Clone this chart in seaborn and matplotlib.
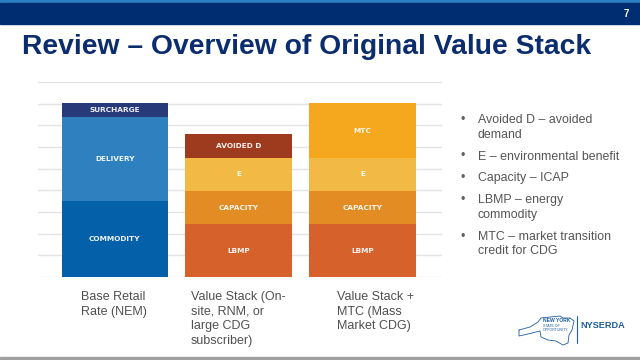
import matplotlib
matplotlib.use("Agg")
import matplotlib.pyplot as plt
import numpy as np
import pandas as pd
import seaborn as sns

sns.set_theme(style="white")
plt.rcParams["font.family"] = ["Liberation Sans", "DejaVu Sans"]

# ── data ─────────────────────────────────────────────────────────────────────
CATEGORIES = ["Base Retail\nRate (NEM)",
              "Value Stack (On-\nsite, RNM, or\nlarge CDG\nsubscriber)",
              "Value Stack +\nMTC (Mass\nMarket CDG)"]

# segments listed bottom -> top for each bar
SEG_NAMES = [["COMMODITY", "DELIVERY", "SURCHARGE"],
             ["LBMP", "CAPACITY", "E", "AVOIDED D"],
             ["LBMP", "CAPACITY", "E", "MTC"]]
SEG_VALUES = [[3.5, 3.9, 0.63],
              [2.43, 1.55, 1.53, 1.07],
              [2.43, 1.55, 1.53, 2.5]]

COLORS = {"COMMODITY": "#0460a9", "DELIVERY": "#2e80bf", "SURCHARGE": "#28397a",
          "LBMP": "#d6612a", "CAPACITY": "#e38c24", "E": "#f2b944",
          "AVOIDED D": "#9e3a1d", "MTC": "#f5a81e"}

BULLETS = [["Avoided D \u2013 avoided", "demand"],
           ["E \u2013 environmental benefit"],
           ["Capacity \u2013 ICAP"],
           ["LBMP \u2013 energy", "commodity"],
           ["MTC \u2013 market transition", "credit for CDG"]]

# long table of segments
rows = []
for cat, names, vals in zip(CATEGORIES, SEG_NAMES, SEG_VALUES):
    cum = np.cumsum(vals)
    for i, (n, v) in enumerate(zip(names, vals)):
        rows.append({"bar": cat, "layer": i, "segment": n, "value": v,
                     "top": cum[i], "mid": cum[i] - v / 2})
seg = pd.DataFrame(rows)

fig = plt.figure(figsize=(6.4, 3.6), dpi=100)

# ── header ──────────────────────────────────────────────────────────────────
fig.patches.append(plt.Rectangle((0, 1 - 3 / 360), 1, 3 / 360, transform=fig.transFigure,
                                 color="#2a7fc0", zorder=0))
fig.patches.append(plt.Rectangle((0, 1 - 24 / 360), 1, 21 / 360, transform=fig.transFigure,
                                 color="#002d72", zorder=0))
fig.text(626 / 640, 1 - 14 / 360, "7", color="white", fontsize=7, fontweight="bold",
         ha="center", va="center")
fig.text(22 / 640, 1 - 47 / 360, "Review \u2013 Overview of Original Value Stack",
         color="#0b2d6e", fontsize=20.3, fontweight="bold", ha="left", va="center")
fig.patches.append(plt.Rectangle((0, 1 - 358.5 / 360), 1, 2 / 360, transform=fig.transFigure,
                                 color="#a0a0a0", zorder=0))

# ── stacked bars ────────────────────────────────────────────────────────────
ax = fig.add_axes([38 / 640, 1 - 277 / 360, 404 / 640, 195 / 360])
for layer in sorted(seg["layer"].unique(), reverse=True):
    sub = seg[seg["layer"] == layer]
    pal = {r.bar: COLORS[r.segment] for r in sub.itertuples()}
    sns.barplot(data=sub, x="bar", y="top", hue="bar", order=CATEGORIES,
                hue_order=list(pal.keys()), palette=pal, width=0.86,
                saturation=1, legend=False, linewidth=0, ax=ax, zorder=3)

for r in seg.itertuples():
    ax.text(CATEGORIES.index(r.bar), r.mid, r.segment, color="white", fontsize=5.3,
            fontweight="bold", ha="center", va="center", alpha=0.92, zorder=5,
            family=["DejaVu Sans"])

ax.set_ylim(0, 9)
ax.set_xlim(-0.62, 2.64)
ax.set_yticks(np.arange(0, 10))
ax.yaxis.grid(True, color="#e4e4e4", linewidth=1)
ax.set_axisbelow(True)
ax.set_xticks([])
ax.set_yticklabels([])
ax.tick_params(left=False, bottom=False)
ax.set_xlabel(""); ax.set_ylabel("")
sns.despine(ax=ax, left=True, bottom=True)

# category labels (left aligned under bars)
for x_px, cat in zip([81, 191, 337], CATEGORIES):
    fig.text(x_px / 640, 1 - 291 / 360, cat, color="#505050", fontsize=9,
             ha="left", va="top", linespacing=1.3)

# ── bullet list ─────────────────────────────────────────────────────────────
y = 120
for item in BULLETS:
    fig.text(463 / 640, 1 - y / 360, "\u2022", color="#606060", fontsize=9,
             ha="center", va="center")
    for line in item:
        fig.text(478 / 640, 1 - y / 360, line, color="#555555", fontsize=8.9,
                 ha="left", va="center")
        y += 14.5
    y += 7.5

# ── logo ────────────────────────────────────────────────────────────────────
logo_c = "#1d5e9e"
fig.text(580 / 640, 1 - 325 / 360, "NYSERDA", color=logo_c, fontsize=6.6,
         fontweight="bold", ha="left", va="center")
fig.add_artist(plt.Line2D([577 / 640, 577 / 640], [1 - 316 / 360, 1 - 343 / 360],
                          color=logo_c, linewidth=0.8))
fig.text(543 / 640, 1 - 321 / 360, "NEW YORK", color=logo_c, fontsize=3.6,
         fontweight="bold", ha="left", va="center")
fig.text(543 / 640, 1 - 326 / 360, "STATE OF", color=logo_c, fontsize=2.6,
         ha="left", va="center")
fig.text(543 / 640, 1 - 330 / 360, "OPPORTUNITY.", color=logo_c, fontsize=2.6,
         ha="left", va="center")
outline_x = np.array([519, 530, 538, 541, 560, 563, 570, 574, 572, 569, 568, 563, 556, 548, 541, 540, 528, 519, 519])
outline_y = np.array([330, 327, 322, 318, 316, 318, 318, 321, 330, 335, 343, 345, 341, 340, 337, 331, 334, 336, 330])
fig.add_artist(plt.Line2D(outline_x / 640, 1 - outline_y / 360, color=logo_c, linewidth=0.6))

fig.savefig("out.png", dpi=100)
